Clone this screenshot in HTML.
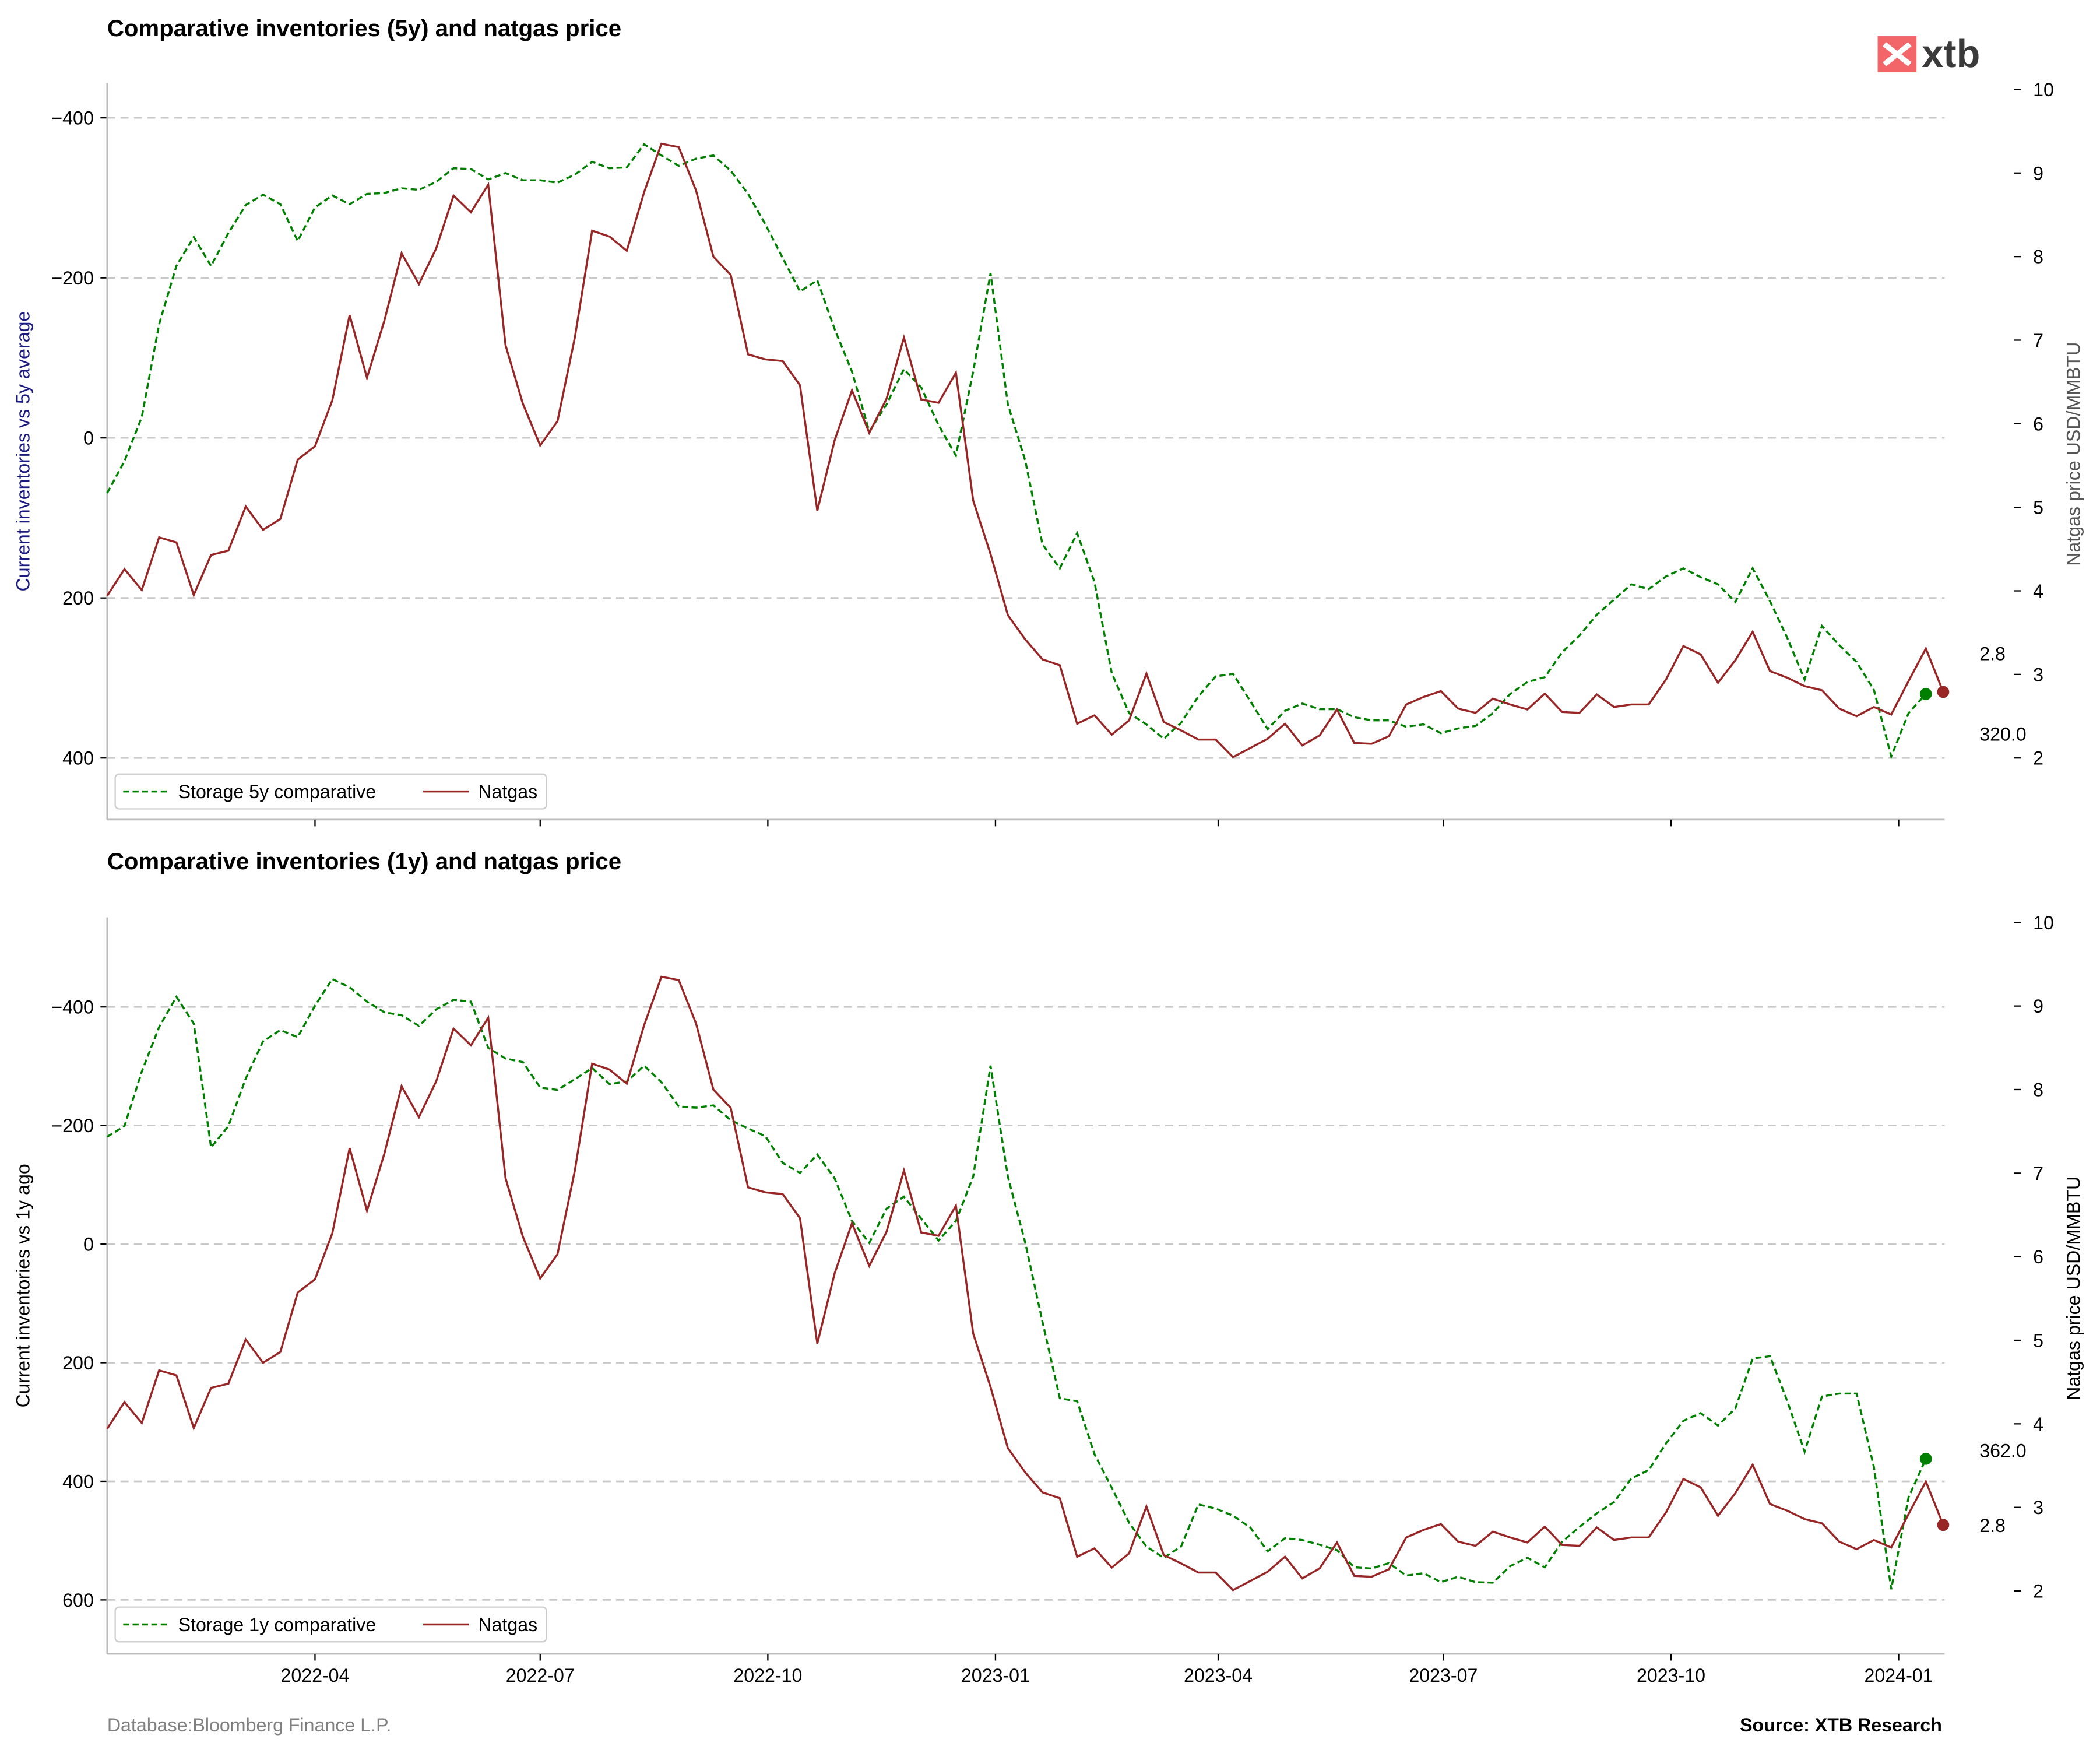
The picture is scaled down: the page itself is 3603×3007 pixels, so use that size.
<!DOCTYPE html>
<html><head><meta charset="utf-8">
<style>
html,body{margin:0;padding:0;background:#fff;}
svg{display:block;font-family:"Liberation Sans",Arial,sans-serif;}
</style></head>
<body>
<svg id="chart" width="3603" height="3007" viewBox="0 0 1568 1309" preserveAspectRatio="none" xmlns="http://www.w3.org/2000/svg">
<rect x="0" y="0" width="1568" height="1309" fill="#fff"/>
<text x="80" y="27" font-size="17.5" font-weight="bold" fill="#000">Comparative inventories (5y) and natgas price</text>
<text x="80" y="649" font-size="17.5" font-weight="bold" fill="#000">Comparative inventories (1y) and natgas price</text>
<g>
<rect x="1402" y="27" width="29" height="27" fill="#f2666a"/>
<path d="M1407 33 L1426 48 M1426 33 L1407 48" stroke="#fff" stroke-width="4"/>
<text x="1435" y="50" font-size="29" font-weight="bold" fill="#3a3a3a">xtb</text>
</g>
<text x="80" y="1293" font-size="14" fill="#808080">Database:Bloomberg Finance L.P.</text>
<text x="1450" y="1293" font-size="14" font-weight="bold" text-anchor="end" fill="#000">Source: XTB Research</text>
<g id="top"></g>
<g id="bottom"></g>
</svg>
<script>
const startDate = "2022-01-07";
const natgas = [3.94,4.26,4.01,4.64,4.58,3.95,4.43,4.48,5.01,4.73,4.86,5.57,5.73,6.28,7.30,6.55,7.23,8.04,7.67,8.10,8.73,8.53,8.86,6.94,6.24,5.74,6.03,7.03,8.31,8.24,8.07,8.77,9.35,9.31,8.79,8.00,7.78,6.83,6.77,6.75,6.46,4.96,5.80,6.40,5.89,6.30,7.03,6.29,6.25,6.61,5.08,4.44,3.71,3.42,3.18,3.11,2.41,2.51,2.28,2.45,3.01,2.43,2.33,2.22,2.22,2.01,2.12,2.23,2.41,2.15,2.27,2.58,2.18,2.17,2.26,2.64,2.73,2.80,2.59,2.54,2.71,2.64,2.58,2.77,2.55,2.54,2.76,2.61,2.64,2.64,2.94,3.34,3.24,2.90,3.17,3.51,3.04,2.96,2.86,2.81,2.59,2.50,2.61,2.52,2.92,3.31,2.79];
const storage5y = [69,29,-26,-142,-215,-251,-215,-256,-291,-304,-292,-246,-288,-303,-292,-305,-306,-312,-310,-320,-337,-336,-323,-331,-322,-322,-319,-329,-345,-337,-338,-367,-353,-340,-349,-353,-334,-305,-267,-225,-183,-197,-136,-83,-8,-42,-86,-63,-16,22,-83,-206,-42,28,133,163,119,180,294,344,358,376,356,323,298,295,329,364,341,332,339,339,349,353,353,361,358,369,363,360,344,320,305,299,268,247,221,202,183,189,173,163,174,183,205,163,204,250,302,235,259,280,315,398,344,320];
const storage1y = [-181,-199,-291,-366,-417,-372,-163,-199,-279,-342,-361,-349,-402,-447,-433,-409,-391,-386,-368,-396,-412,-409,-331,-313,-307,-264,-260,-278,-297,-270,-274,-301,-273,-232,-230,-234,-209,-195,-182,-137,-120,-151,-111,-39,-2,-60,-80,-43,-6,-39,-114,-301,-114,-3,131,260,265,354,411,470,510,529,510,439,446,458,478,518,496,499,507,516,545,547,538,559,555,570,561,570,571,543,529,545,502,477,454,435,395,381,336,298,285,306,277,193,189,265,350,257,252,252,376,582,427,362];
const leftTicksTop = [-400,-200,0,200,400];
const leftTicksBottom = [-400,-200,0,200,400,600];
const rightTicks = [2,3,4,5,6,7,8,9,10];
const xTickLabels = ["2022-04","2022-07","2022-10","2023-01","2023-04","2023-07","2023-10","2024-01"];

const NS="http://www.w3.org/2000/svg";
const X0=80, X1=1452, RAX=1504, FS=14;
const t0=Date.parse(startDate);
function dateOf(i){return t0+i*7*86400000;}
function xScale(t){return X0+(t-t0)/86400000*1.8476;}
function mk(parent,tag,attrs){const e=document.createElementNS(NS,tag);for(const k in attrs)e.setAttribute(k,attrs[k]);parent.appendChild(e);return e;}

function panel(g, cfg){
  const {top,bottom,leftY,rightY,leftTicks,storage,label,ylabel,ylabelColor,showX,legendY,annStorageY,annGasY} = cfg;
  leftTicks.forEach(v=>{
    const y=leftY(v);
    const gl=mk(g,'line',{x1:X0,x2:X1,y1:y,y2:y,stroke:'#c8c8c8','stroke-width':1.2,'stroke-dasharray':'6,4'});
    
    
    mk(g,'line',{x1:X0-5,x2:X0,y1:y,y2:y,stroke:'#000','stroke-width':1});
    const tl=mk(g,'text',{x:X0-10,y:y+5,'font-size':FS,'text-anchor':'end',fill:'#000'});
    tl.textContent=(v<0?'\u2212':'')+Math.abs(v);
    
    
  });
  rightTicks.forEach(p=>{
    const y=rightY(p);
    mk(g,'line',{x1:RAX,x2:RAX+5,y1:y,y2:y,stroke:'#000','stroke-width':1});
    const tl=mk(g,'text',{x:RAX+14,y:y+5,'font-size':FS,fill:'#000'});
    tl.textContent=p;
    
    
  });
  mk(g,'line',{x1:X0,x2:X0,y1:top,y2:bottom,stroke:'#bbb','stroke-width':1.2});
  mk(g,'line',{x1:X0,x2:X1,y1:bottom,y2:bottom,stroke:'#bbb','stroke-width':1.2});
  xTickLabels.forEach(s=>{
    const x=xScale(Date.parse(s+"-01"));
    mk(g,'line',{x1:x,x2:x,y1:bottom,y2:bottom+5,stroke:'#000','stroke-width':1});
    if(showX){
      const tl=mk(g,'text',{x:x,y:bottom+21,'font-size':FS,'text-anchor':'middle',fill:'#000'});
      tl.textContent=s;
      
      
    }
  });
  const sp=storage.map((v,i)=>xScale(dateOf(i)).toFixed(2)+','+leftY(v).toFixed(2)).join(' ');
  const gp=natgas.map((v,i)=>xScale(dateOf(i)).toFixed(2)+','+rightY(v).toFixed(2)).join(' ');
  const sl=mk(g,'polyline',{points:sp,fill:'none',stroke:'#008000','stroke-width':1.5,'stroke-dasharray':'4.5,2.5'});
  
  
  const nl=mk(g,'polyline',{points:gp,fill:'none',stroke:'#982626','stroke-width':1.5});
  
  
  const ls=storage.length-1, ln=natgas.length-1;
  const d1=mk(g,'circle',{cx:xScale(dateOf(ls)),cy:leftY(storage[ls]),r:4.5,fill:'#008000'});
  
  
  const d2=mk(g,'circle',{cx:xScale(dateOf(ln)),cy:rightY(natgas[ln]),r:4.5,fill:'#982626'});
  
  
  const a1=mk(g,'text',{x:1478,y:annStorageY,'font-size':FS,fill:'#000'});
  a1.textContent=storage[ls].toFixed(1);
  
  
  const a2=mk(g,'text',{x:1478,y:annGasY,'font-size':FS,fill:'#000'});
  a2.textContent=natgas[ln].toFixed(1);
  
  
  const cy=(top+bottom)/2;
  const yl=mk(g,'text',{x:0,y:0,'font-size':14,'text-anchor':'middle',fill:ylabelColor,transform:`translate(22,${cy}) rotate(-90)`});
  yl.textContent=ylabel;
  
  
  const yr=mk(g,'text',{x:0,y:0,'font-size':14,'text-anchor':'middle',fill:cfg.rightColor,transform:`translate(1553,${cy+2}) rotate(-90)`});
  yr.textContent='Natgas price USD/MMBTU';
  
  
  const lg=mk(g,'g',{});
  
  
  mk(lg,'rect',{x:86,y:legendY,width:322,height:26,rx:3,fill:'#fff',stroke:'#ccc','stroke-width':1});
  mk(lg,'line',{x1:92,x2:126,y1:legendY+13,y2:legendY+13,stroke:'#008000','stroke-width':1.5,'stroke-dasharray':'4.5,2.5'});
  const t1=mk(lg,'text',{x:133,y:legendY+18,'font-size':14,fill:'#000'});t1.textContent=label;
  
  
  mk(lg,'line',{x1:316,x2:350,y1:legendY+13,y2:legendY+13,stroke:'#982626','stroke-width':1.5});
  const t2=mk(lg,'text',{x:357,y:legendY+18,'font-size':14,fill:'#000'});t2.textContent='Natgas';
  
  
}

panel(document.getElementById('top'),{
  top:62,bottom:612,
  leftY:v=>327+v*0.5975,
  rightY:p=>566-(p-2)*62.4,
  leftTicks:leftTicksTop,storage:storage5y,label:'Storage 5y comparative',
  ylabel:'Current inventories vs 5y average',ylabelColor:'#1a1a80',rightColor:'#555',
  showX:false,legendY:578,annStorageY:553,annGasY:493
});
panel(document.getElementById('bottom'),{
  top:685,bottom:1235,
  leftY:v=>929+v*0.4428,
  rightY:p=>1188-(p-2)*62.4,
  leftTicks:leftTicksBottom,storage:storage1y,label:'Storage 1y comparative',
  ylabel:'Current inventories vs 1y ago',ylabelColor:'#000',rightColor:'#000',
  showX:true,legendY:1200,annStorageY:1088,annGasY:1144
});
</script>
</body></html>
